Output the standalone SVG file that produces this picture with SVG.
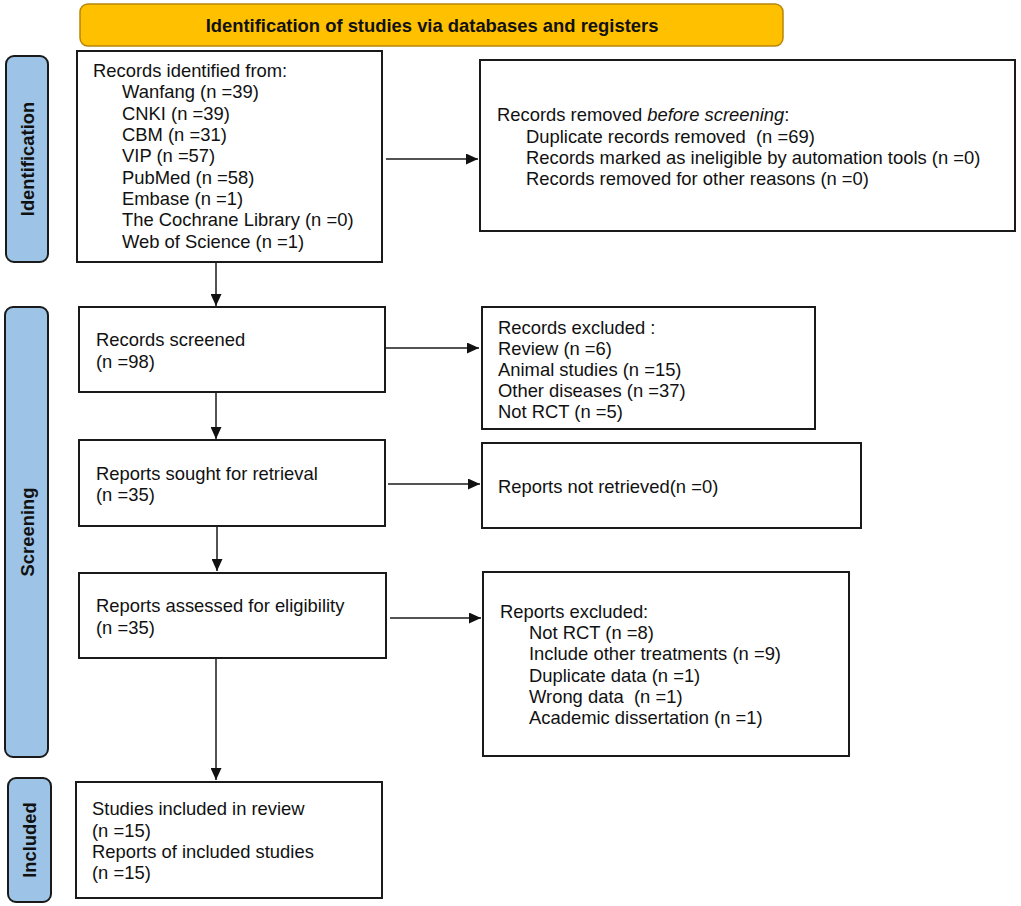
<svg xmlns="http://www.w3.org/2000/svg" width="1021" height="906" viewBox="0 0 1021 906">
<style>
.box{fill:#fff;stroke:#1a1a1a;stroke-width:2}
.side{fill:#9DC3E6;stroke:#1a1a1a;stroke-width:2}
.t{font-family:"Liberation Sans",Arial,sans-serif;font-size:18.4px;fill:#111}
.b{font-family:"Liberation Sans",Arial,sans-serif;font-size:18.4px;font-weight:bold;fill:#111}
.c{stroke:#1a1a1a;stroke-width:1.5;fill:none;marker-end:url(#ah)}
</style>
<defs>
<marker id="ah" markerWidth="12" markerHeight="11" refX="12" refY="5.5" orient="auto" markerUnits="userSpaceOnUse">
<path d="M0,0 L12,5.5 L0,11 Z" fill="#111"/>
</marker>
</defs>
<rect width="1021" height="906" fill="#fff"/>
<g id="banner">
<rect x="80" y="4" width="703" height="42" rx="8" fill="#FFC000" stroke="#B8860B" stroke-width="1.5"/>
<text class="b" x="432" y="32" text-anchor="middle">Identification of studies via databases and registers</text>
</g>
<g id="side-identification">
<rect class="side" x="6" y="56" width="42" height="206" rx="8"/>
<text class="b" transform="translate(34,159) rotate(-90)" text-anchor="middle">Identification</text>
</g>
<g id="side-screening">
<rect class="side" x="5" y="307" width="43" height="450" rx="8"/>
<text class="b" transform="translate(34,532) rotate(-90)" text-anchor="middle">Screening</text>
</g>
<g id="side-included">
<rect class="side" x="8" y="778" width="43" height="124" rx="8"/>
<text class="b" transform="translate(36,840) rotate(-90)" text-anchor="middle">Included</text>
</g>
<g id="records-identified">
<rect class="box" x="77" y="51" width="305" height="211"/>
<text class="t" x="93" y="77">Records identified from:</text>
<text class="t" x="122" y="98.3">Wanfang (n =39)</text>
<text class="t" x="122" y="119.6">CNKI (n =39)</text>
<text class="t" x="122" y="141">CBM (n =31)</text>
<text class="t" x="122" y="162.3">VIP (n =57)</text>
<text class="t" x="122" y="183.6">PubMed (n =58)</text>
<text class="t" x="122" y="205">Embase (n =1)</text>
<text class="t" x="122" y="226.3">The Cochrane Library (n =0)</text>
<text class="t" x="122" y="247.6">Web of Science (n =1)</text>
</g>
<g id="records-removed">
<rect class="box" x="480" y="60" width="535" height="171"/>
<text class="t" x="497" y="120.5">Records removed <tspan font-style="italic">before screening</tspan>:</text>
<text class="t" x="526" y="142.5" xml:space="preserve">Duplicate records removed  (n =69)</text>
<text class="t" x="526" y="164">Records marked as ineligible by automation tools (n =0)</text>
<text class="t" x="526" y="185">Records removed for other reasons (n =0)</text>
</g>
<g id="records-screened">
<rect class="box" x="79" y="307" width="306" height="85"/>
<text class="t" x="96" y="346">Records screened</text>
<text class="t" x="96" y="367.5">(n =98)</text>
</g>
<g id="records-excluded">
<rect class="box" x="482" y="307" width="333" height="122"/>
<text class="t" x="498" y="333.5">Records excluded :</text>
<text class="t" x="498" y="354.5">Review (n =6)</text>
<text class="t" x="498" y="375.5">Animal studies (n =15)</text>
<text class="t" x="498" y="397">Other diseases (n =37)</text>
<text class="t" x="498" y="418">Not RCT (n =5)</text>
</g>
<g id="reports-sought">
<rect class="box" x="79" y="440" width="306" height="86"/>
<text class="t" x="96" y="479.5">Reports sought for retrieval</text>
<text class="t" x="96" y="500.5">(n =35)</text>
</g>
<g id="reports-not-retrieved">
<rect class="box" x="482" y="443" width="379" height="85"/>
<text class="t" x="498" y="492.5">Reports not retrieved(n =0)</text>
</g>
<g id="reports-assessed">
<rect class="box" x="79" y="573" width="307" height="85"/>
<text class="t" x="96" y="611.5">Reports assessed for eligibility</text>
<text class="t" x="96" y="633.5">(n =35)</text>
</g>
<g id="reports-excluded">
<rect class="box" x="483" y="572" width="366" height="184"/>
<text class="t" x="500" y="617.5">Reports excluded:</text>
<text class="t" x="529" y="638.8">Not RCT (n =8)</text>
<text class="t" x="529" y="659.8">Include other treatments (n =9)</text>
<text class="t" x="529" y="681.5">Duplicate data (n =1)</text>
<text class="t" x="529" y="702.5" xml:space="preserve">Wrong data  (n =1)</text>
<text class="t" x="529" y="723.8">Academic dissertation (n =1)</text>
</g>
<g id="studies-included">
<rect class="box" x="76" y="782" width="306" height="116"/>
<text class="t" x="92" y="815">Studies included in review</text>
<text class="t" x="92" y="836.5">(n =15)</text>
<text class="t" x="92" y="857.5">Reports of included studies</text>
<text class="t" x="92" y="879">(n =15)</text>
</g>
<g id="connectors">
<line class="c" x1="216" y1="262" x2="216" y2="306"/>
<line class="c" x1="216" y1="392" x2="216" y2="439"/>
<line class="c" x1="217" y1="526" x2="217" y2="571"/>
<line class="c" x1="216" y1="658" x2="216" y2="780"/>
<line class="c" x1="386" y1="159" x2="478" y2="159"/>
<line class="c" x1="385" y1="348" x2="479" y2="348"/>
<line class="c" x1="388" y1="484" x2="480" y2="484"/>
<line class="c" x1="390" y1="618" x2="481" y2="618"/>
</g>
</svg>
